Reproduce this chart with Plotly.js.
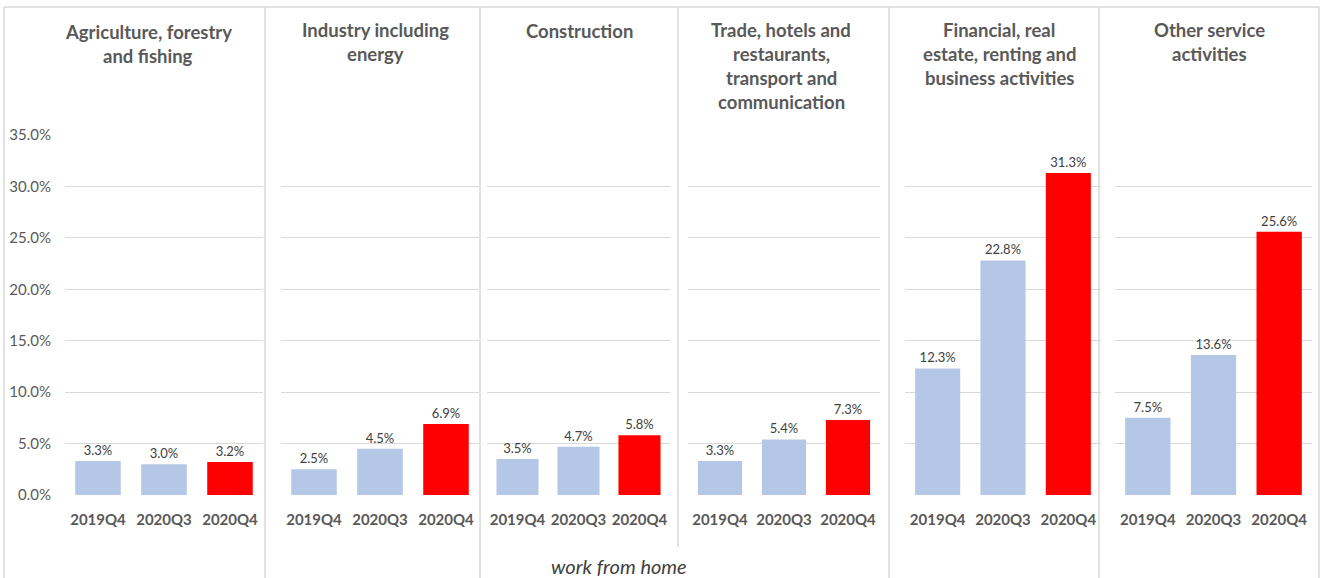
<!DOCTYPE html>
<html>
<head>
<meta charset="utf-8">
<script src="https://cdn.plot.ly/plotly-3.0.1.min.js"></script>
<style>html,body{margin:0;padding:0;background:#fff;}#chart{width:1327px;height:578px;}</style>
</head>
<body>
<div id="chart"></div>
<script>
// ---- data ----
const categories = ['2019Q4', '2020Q3', '2020Q4'];
const sectorTitles = [
  ['Agriculture, forestry', 'and fishing'],
  ['Industry including', 'energy'],
  ['Construction'],
  ['Trade, hotels and', 'restaurants,', 'transport and', 'communication'],
  ['Financial, real', 'estate, renting and', 'business activities'],
  ['Other service', 'activities']
];
const agriculture = [3.3, 3.0, 3.2];
const industry = [2.5, 4.5, 6.9];
const construction = [3.5, 4.7, 5.8];
const trade = [3.3, 5.4, 7.3];
const financial = [12.3, 22.8, 31.3];
const otherServices = [7.5, 13.6, 25.6];
const yTickValues = [0, 5, 10, 15, 20, 25, 30, 35];
const yTickLabels = ['0.0%', '5.0%', '10.0%', '15.0%', '20.0%', '25.0%', '30.0%', '35.0%'];
const footnote = 'work from home';

const seriesList = [agriculture, industry, construction, trade, financial, otherServices];

// ---- layout helpers (pixels) ----
const W = 1327, H = 578;
const px = x => x / W;
const py = y => 1 - y / H;
const panelDomains = [[65, 263], [281, 479], [487, 670], [688, 880], [905, 1101], [1115, 1312]];
const titleCenters = [148, 375, 579, 781, 999, 1209];
const titleFirstLine = [32, 30, 31, 30, 30, 30];
const barColors = ['#b4c7e7', '#b4c7e7', '#ff0000'];
const gridColor = '#d9d9d9';
const font = 'Lato, "Open Sans", sans-serif';

const traces = [];
const layout = {
  width: W, height: H,
  margin: {l: 0, r: 0, t: 0, b: 0},
  paper_bgcolor: '#ffffff', plot_bgcolor: 'rgba(0,0,0,0)',
  showlegend: false,
  bargap: 0.31,
  font: {family: font, color: '#595959'},
  yaxis: {
    range: [0, 35], domain: [py(495), py(135)],
    tickvals: yTickValues, ticktext: yTickLabels,
    showgrid: true, gridcolor: gridColor, gridwidth: 1,
    zeroline: false, showline: false, ticks: '',
    ticklabelstandoff: 13,
    tickfont: {family: font, size: 15, color: '#595959'},
    fixedrange: true
  },
  annotations: [],
  shapes: []
};

seriesList.forEach((vals, i) => {
  const xa = i === 0 ? 'x' : 'x' + (i + 1);
  const xaKey = i === 0 ? 'xaxis' : 'xaxis' + (i + 1);
  traces.push({
    type: 'bar', x: categories, y: vals, xaxis: xa, yaxis: 'y',
    marker: {color: barColors, line: {width: 0}},
    text: vals.map(v => v.toFixed(1) + '%'),
    textposition: 'outside', cliponaxis: false,
    textfont: {family: font, size: 13, color: '#404040'},
    hoverinfo: 'skip'
  });
  layout[xaKey] = {
    domain: [px(panelDomains[i][0]), px(panelDomains[i][1])],
    anchor: 'y', type: 'category',
    showgrid: false, zeroline: false, showline: false, ticks: '',
    ticklabelstandoff: 14,
    tickfont: {family: font, size: 15, color: '#595959', weight: 'bold'},
    fixedrange: true
  };
  sectorTitles[i].forEach((line, j) => {
    layout.annotations.push({
      xref: 'paper', yref: 'paper',
      x: px(titleCenters[i]), y: py(titleFirstLine[i] + 24 * j),
      xanchor: 'center', yanchor: 'middle', showarrow: false,
      text: '<b>' + line + '</b>',
      font: {family: font, size: 18.5, color: '#595959'}
    });
  });
});

layout.annotations.push({
  xref: 'paper', yref: 'paper', x: px(619), y: py(566),
  xanchor: 'center', yanchor: 'middle', showarrow: false,
  text: '<i>' + footnote + '</i>',
  font: {family: font, size: 20, color: '#404040'}
});

// panel borders
const borderX = [4, 265, 480, 889, 1099, 1319];
borderX.forEach(x => layout.shapes.push({
  type: 'line', xref: 'paper', yref: 'paper',
  x0: px(x), x1: px(x), y0: py(7), y1: 0,
  line: {color: gridColor, width: 1.5}
}));
layout.shapes.push({
  type: 'line', xref: 'paper', yref: 'paper',
  x0: px(678), x1: px(678), y0: py(7), y1: py(547),
  line: {color: gridColor, width: 1.5}
});
layout.shapes.push({
  type: 'line', xref: 'paper', yref: 'paper',
  x0: px(4), x1: px(1319), y0: py(7), y1: py(7),
  line: {color: gridColor, width: 1.5}
});

Plotly.newPlot('chart', traces, layout, {displayModeBar: false, staticPlot: true});
</script>
</body>
</html>
